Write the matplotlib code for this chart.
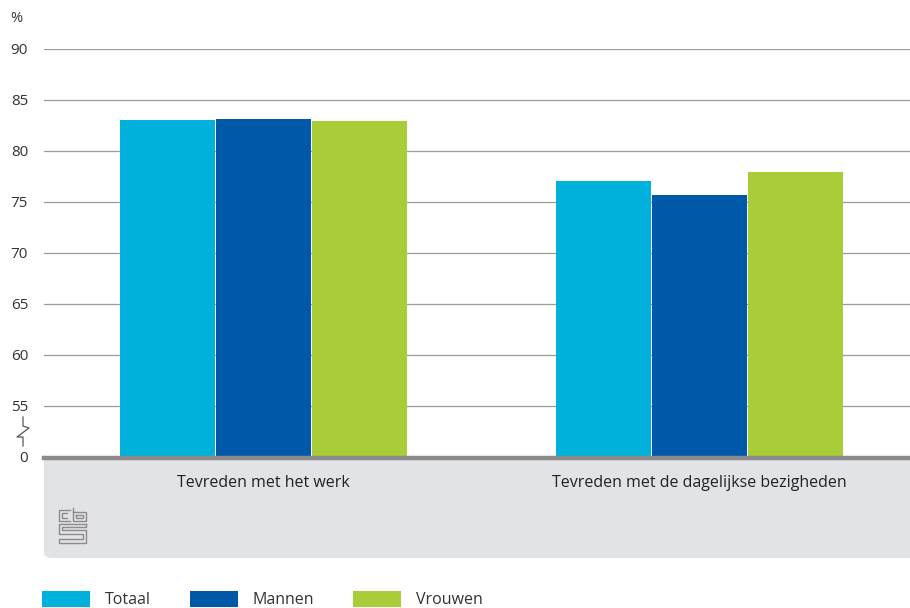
import matplotlib.pyplot as plt
from matplotlib.patches import Rectangle, FancyBboxPatch
from matplotlib.lines import Line2D
import numpy as np

plt.rcParams['font.family'] = ['Open Sans', 'DejaVu Sans']

# Data
categories = ["Tevreden met het werk", "Tevreden met de dagelijkse bezigheden"]
series = ["Totaal", "Mannen", "Vrouwen"]
totaal = [83.0, 77.1]
mannen = [83.1, 75.7]
vrouwen = [82.9, 77.9]
colors = ["#00b1dc", "#0058a8", "#a9cd38"]
yticks = [50, 55, 60, 65, 70, 75, 80, 85, 90]
ytick_labels = ["0", "55", "60", "65", "70", "75", "80", "85", "90"]

W, H = 910, 608
fig = plt.figure(figsize=(W / 100, H / 100), dpi=100)

def fx(px):
    return px / W

def fy(py):
    return (H - py) / H

# axes: x 44..910 px, y 49 (90) .. 457 (0/50)
ax = fig.add_axes([fx(44), fy(457), 866 / W, 408 / H])

x = np.array([0.2535, 0.757])
bw = 0.1108
values = [totaal, mannen, vrouwen]
for i, (name, vals) in enumerate(zip(series, values)):
    ax.bar(x + (i - 1) * bw, np.array(vals) - 50, bottom=50, width=bw - 0.0012,
           color=colors[i], zorder=3)

ax.set_xlim(0, 1)
ax.set_ylim(50, 90)
ax.set_yticks(yticks)
ax.set_yticklabels(ytick_labels, fontsize=11, color="#333333")
ax.tick_params(axis="y", length=0, pad=11.5)
ax.set_xticks([])
for y in yticks[1:]:
    ax.axhline(y, color="#9a9a9a", lw=0.9, zorder=1)
for s in ax.spines.values():
    s.set_visible(False)
ax.set_facecolor("none")

# grey area below the axis
grey = "#e2e3e6"
box = FancyBboxPatch((fx(44), fy(558)), 900 / W, (558 - 459) / H,
                     boxstyle="round,pad=0,rounding_size=0.009", transform=fig.transFigure,
                     facecolor=grey, edgecolor="none", zorder=0)
fig.patches.append(box)
fig.patches.append(Rectangle((fx(44), fy(520)), 900 / W, 61 / H, transform=fig.transFigure,
                             facecolor=grey, edgecolor="none", zorder=0))

# thick base axis line
fig.lines.append(Line2D([fx(44), 1.0], [fy(458)] * 2, transform=fig.transFigure,
                        color="#8a8a8a", lw=3.2, zorder=5))

# category labels
for xc, cat in zip(x, categories):
    fig.text(fx(44 + xc * 866), fy(483), cat, ha="center", va="center",
             fontsize=11.5, color="#222222")

# axis break symbol
bx = [23, 23, 29, 17, 23, 23]
by = [417, 426, 428, 437, 437, 446]
fig.lines.append(Line2D([fx(v) for v in bx], [fy(v) for v in by],
                        transform=fig.transFigure, color="#555555", lw=0.9))

# unit label
fig.text(fx(10), fy(18), "%", ha="left", va="center", fontsize=10.5, color="#333333")

# simple cbs logo outline
logo = [
    ([70, 59, 59, 70], [510, 510, 521, 521]),           # c
    ([67, 62, 62, 67], [513, 513, 518, 518]),
    ([73, 73, 86, 86, 73], [508, 521, 521, 512, 512]),  # b
    ([76, 83, 83, 76, 76], [515, 515, 518, 518, 515]),
    ([86, 59, 59, 83, 83, 59, 59, 86, 86, 62, 62, 86, 86],
     [524, 524, 534, 534, 539, 539, 543, 543, 530, 530, 527, 527, 524]),
]
for lxs, lys in logo:
    fig.lines.append(Line2D([fx(v) for v in lxs], [fy(v) for v in lys],
                            transform=fig.transFigure, color="#8c8c8c", lw=1.0))

# legend
lx = [42, 190, 353]
for i, name in enumerate(series):
    fig.patches.append(Rectangle((fx(lx[i]), fy(607)), 48 / W, 16 / H,
                                 transform=fig.transFigure, facecolor=colors[i],
                                 edgecolor="none"))
    fig.text(fx(lx[i] + 63), fy(600), name, ha="left", va="center",
             fontsize=11.5, color="#333333")

fig.savefig("out.png", dpi=100)
